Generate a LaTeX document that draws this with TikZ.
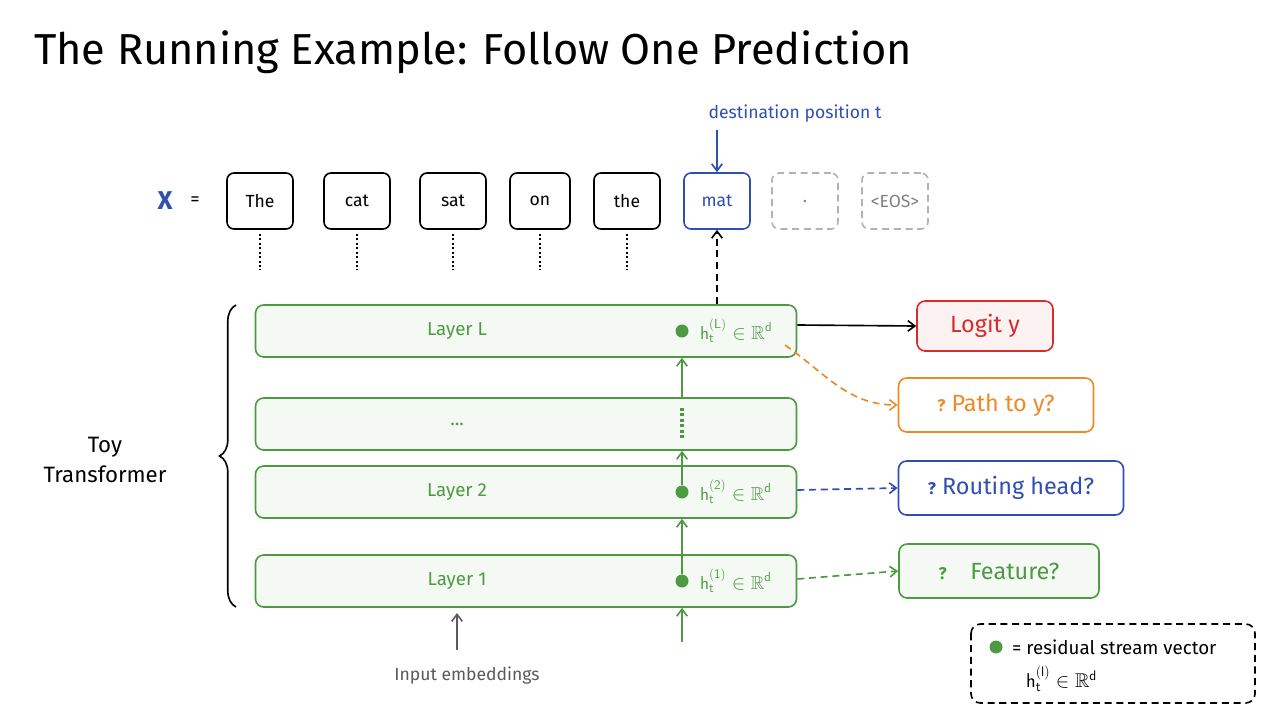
\documentclass[tikz,border=0pt]{standalone}
\usepackage{amssymb}
\usepackage{fontspec}
\setmainfont{Fira Sans}
\usetikzlibrary{decorations.pathreplacing,arrows.meta}

\definecolor{lgreen}{HTML}{4E9A43}
\definecolor{lblue}{HTML}{2F4FB3}
\definecolor{lred}{HTML}{D92B2B}
\definecolor{lorange}{HTML}{EE8A26}
\definecolor{lgray}{HTML}{5A5A5A}
\newdimen\px \px=0.03cm
\newcommand{\hvec}[1]{$\mathsf{h}_{\mathsf{t}}^{(\mathsf{#1})}\in\mathbb{R}^{\mathsf{d}}$}

\tikzset{
  >={Straight Barb[length=6pt,width=9pt]},
  lw/.style={line width=1.4pt},
  dsh/.style={dash pattern=on 6pt off 4pt},
  tok/.style={draw, lw, rounded corners=6pt, minimum width=66\px, minimum height=56\px, inner sep=0pt, font=\fontsize{15}{17}\selectfont},
  layer/.style={draw=lgreen, lw, fill=lgreen!6, rounded corners=7pt, minimum width=541\px, minimum height=52\px, inner sep=0pt},
  ltext/.style={text=lgreen, font=\fontsize{16}{19}\selectfont},
  dot/.style={circle, fill=lgreen, inner sep=0pt, minimum size=13\px},
  qbox/.style={draw, lw, rounded corners=7pt, fill=white, minimum height=54\px, inner sep=0pt, font=\fontsize{20}{24}\selectfont},
}

\begin{document}
\begin{tikzpicture}[x=0.03cm, y=-0.03cm]
        \useasboundingbox (0,0) rectangle (1280,720);

        \node[anchor=west, font=\fontsize{37}{42}\selectfont] (title) at (30,52) {The Running Example: Follow One Prediction};

        % tokens
        \node[text=lblue, font=\bfseries\fontsize{22}{26}\selectfont] (X) at (165,201) {X};
        \node[font=\fontsize{16}{18}\selectfont] (eq) at (195,201) {=};
        \node[tok] (t1) at (260,201) {The};
        \node[tok] (t2) at (357,201) {cat};
        \node[tok] (t3) at (453,201) {sat};
        \node[tok, minimum width=60\px] (t4) at (540,201) {on};
        \node[tok] (t5) at (627,201) {the};
        \node[tok, draw=lblue, text=lblue] (t6) at (717,201) {mat};
        \node[tok, draw=gray!60, text=gray, dsh] (t7) at (805,201) {.};
        \node[tok, draw=gray!60, text=gray, dsh] (t8) at (895,201) {<EOS>};

        \foreach \t in {t1,t2,t3,t4,t5}
          \draw[dotted, line width=1.8pt] ([yshift=-4\px]\t.south) -- ++(0,36);

        \node[text=lblue, font=\fontsize{15}{17}\selectfont] (dest) at (795,114) {destination position t};
        \draw[->, lw, lblue] (717,130) -- (t6.north);

        % layers
        \node[layer] (LL) at (526,331) {};
        \node[layer] (Ld) at (526,424) {};
        \node[layer] (L2) at (526,492) {};
        \node[layer] (L1) at (526,581) {};
        \node[ltext] at (457,331) {Layer L};
        \node[ltext] at (457,424) {...};
        \node[ltext] at (457,492) {Layer 2};
        \node[ltext] at (457,581) {Layer 1};

        \node[dot] (dL) at (682,331) {};
        \node[dot] (d2) at (682,492) {};
        \node[dot] (d1) at (682,581) {};
        \node[ltext, anchor=west] (hL) at (696,331) {\hvec{L}};
        \node[ltext, anchor=west] (h2) at (696,492) {\hvec{2}};
        \node[ltext, anchor=west] (h1) at (696,581) {\hvec{1}};

        % residual stream
        \draw[->, lw, lgreen] (682,642) -- (L1.south -| d1);
        \draw[->, lw, lgreen] (d1) -- (L2.south -| d1);
        \draw[->, lw, lgreen] (d2) -- (Ld.south -| d2);
        \draw[lgreen, dotted, line width=2.6pt] (682,408) -- (682,440);
        \draw[->, lw, lgreen] (682,398) -- (LL.south -| dL);
        \draw[->, lw, dsh] (LL.north -| t6) -- (t6.south);

        % brace
        \draw[lw, decorate, decoration={brace, amplitude=14pt}] (236,607) -- (236,305);
        \node[align=center, font=\fontsize{19}{25}\selectfont] (toy) at (105,460) {Toy\\Transformer};

        \node[text=lgray, font=\fontsize{15}{17}\selectfont] (inp) at (467,676) {Input embeddings};
        \draw[->, lw, lgray] (457,650) -- (457,613);

        % questions
        \node[qbox, draw=lred, fill=lred!6, text=lred, minimum width=136\px, minimum height=50\px] (logit) at (985,326) {Logit y};
        \node[qbox, draw=lorange, text=lorange, minimum width=195\px] (path) at (996,405) {\textbf{\Large ?}\ Path to y?};
        \node[qbox, draw=lblue, text=lblue, minimum width=225\px] (route) at (1011,488) {\textbf{\Large ?}\ Routing head?};
        \node[qbox, draw=lgreen, fill=lgreen!6, text=lgreen, minimum width=200\px] (feat) at (999,571) {\textbf{\Large ?}\quad Feature?};

        \draw[->, lw] (LL.east |- 0,325) -- (logit.west);
        \draw[->, lw, dsh, lorange] (785,345) to[out=-35, in=180] (path.west);
        \draw[->, lw, dsh, lblue] (L2.east |- 0,490) -- (route.west);
        \draw[->, lw, dsh, lgreen] (L1.east |- 0,579) -- (feat.west);

        % legend
        \draw[lw, dsh, rounded corners=8pt] (971,624) rectangle (1255,703);
        \node[dot] (ldot) at (996,647) {};
        \node[anchor=west, font=\fontsize{16}{18}\selectfont] (leg) at (1008,647) {= residual stream vector};
        \node[anchor=west, font=\fontsize{17}{19}\selectfont] (leg2) at (1022,679) {\hvec{l}};

    \end{tikzpicture}
\end{document}
